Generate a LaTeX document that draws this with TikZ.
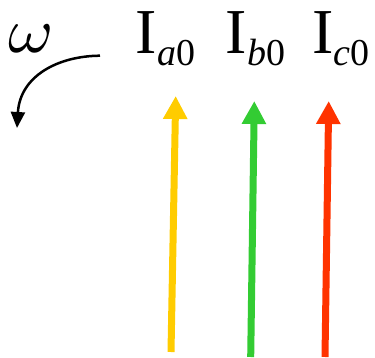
\documentclass[tikz,border=0pt]{standalone}
\usepackage{fontspec}
\setmainfont{Liberation Serif}
\usetikzlibrary{arrows.meta}
\definecolor{cyel}{HTML}{FFCC00}
\definecolor{cgrn}{HTML}{33CC33}
\definecolor{cred}{HTML}{FF3300}
\newcommand{\Isub}[1]{{\fontsize{64}{64}\selectfont I}\raisebox{-12pt}{\fontsize{38}{38}\selectfont\itshape #1\upshape 0}}
\begin{document}
\begin{tikzpicture}[x=1pt,y=-1pt,
  lbl/.style={inner sep=0pt,anchor=base west},
  phasor/.style={line width=7pt,-{Triangle[width=23pt,length=23pt]}},
  rot/.style={line width=2.5pt,-{Triangle[width=14pt,length=16pt]}}]
\useasboundingbox (0,0) rectangle (375,358);
\node[lbl] (om) at (8,53) {\scalebox{6.9}[6.4]{$\omega$}};
\node[lbl] (ia) at (135.5,53.3) {\Isub{a}};
\node[lbl] (ib) at (225.5,53.3) {\Isub{b}};
\node[lbl] (ic) at (312,53.3) {\Isub{c}};
\coordinate (ra) at (100,55.7);
\coordinate (rb) at (17,128);
\draw[rot] (ra) .. controls (58,56) and (20,76) .. (rb);
\coordinate (a0) at (171,352);
\coordinate (a1) at (175.7,96);
\coordinate (b0) at (250.7,357);
\coordinate (b1) at (254.3,101);
\coordinate (c0) at (325,357);
\coordinate (c1) at (328.7,101);
\draw[phasor,cyel] (a0) -- (a1);
\draw[phasor,cgrn] (b0) -- (b1);
\draw[phasor,cred] (c0) -- (c1);
\end{tikzpicture}
\end{document}
